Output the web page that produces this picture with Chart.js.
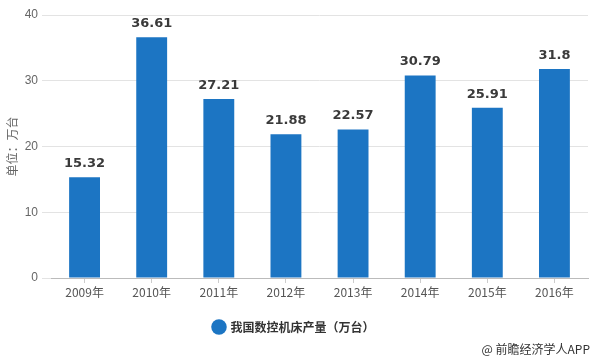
<!DOCTYPE html>
<html>
<head>
<meta charset="utf-8">
<script src="https://cdn.jsdelivr.net/npm/chart.js@4/dist/chart.umd.min.js"></script>
<style>
  body { margin: 0; background: #fff; }
  #wrap { position: relative; width: 600px; height: 361px; }
  #src { position: absolute; right: 10px; bottom: 4px; font: 12px "Noto Sans CJK SC", sans-serif; color: #333; }
</style>
</head>
<body>
<div id="wrap">
  <canvas id="myBarChart" width="600" height="361"></canvas>
  <div id="src">@ 前瞻经济学人APP</div>
</div>
<script>
// data
const years = ['2009年', '2010年', '2011年', '2012年', '2013年', '2014年', '2015年', '2016年'];
const output = [15.32, 36.61, 27.21, 21.88, 22.57, 30.79, 25.91, 31.8];
const seriesName = '我国数控机床产量（万台）';
const yTitle = '单位：万台';

const blue = '#1c75c3';

// draw values above the bars
const valueLabels = {
    id: 'valueLabels',
    afterDatasetsDraw(chart) {
        const ctx = chart.ctx;
        const meta = chart.getDatasetMeta(0);
        ctx.save();
        ctx.font = 'bold 13px "DejaVu Sans", sans-serif';
        ctx.fillStyle = '#3a3a3a';
        ctx.textAlign = 'center';
        ctx.textBaseline = 'bottom';
        meta.data.forEach((bar, i) => {
            ctx.fillText(String(output[i]), bar.x, bar.y - 7);
        });
        ctx.restore();
    }
};

const ctx = document.getElementById('myBarChart').getContext('2d');
const myBarChart = new Chart(ctx, {
    type: 'bar',
    data: {
        labels: years,
        datasets: [{
            label: seriesName,
            data: output,
            backgroundColor: blue,
            categoryPercentage: 0.92,
            barPercentage: 0.5
        }]
    },
    options: {
        responsive: false,
        animation: false,
        layout: { padding: { top: 15, right: 12, bottom: 18, left: 0 } },
        plugins: {
            legend: {
                position: 'bottom',
                labels: {
                    usePointStyle: true,
                    pointStyle: 'circle',
                    boxWidth: 11,
                    boxHeight: 11,
                    color: '#333',
                    font: { family: '"Noto Sans CJK SC", sans-serif', size: 12, weight: 'bold' },
                    padding: 14
                }
            },
            tooltip: { enabled: false }
        },
        scales: {
            x: {
                grid: { drawOnChartArea: false, offset: false, tickLength: 5, color: '#ccc' },
                border: { color: '#bbb' },
                ticks: { color: '#555', font: { family: '"Noto Sans CJK SC", sans-serif', size: 12 }, padding: 2 },
                afterFit(scale) { scale.height = 29; }
            },
            y: {
                min: 0,
                max: 40,
                ticks: { stepSize: 10, color: '#666', font: { family: '"Liberation Sans", sans-serif', size: 12 }, padding: 4 },
                grid: { color: '#e3e3e3', tickLength: 9 },
                border: { display: false },
                title: {
                    display: true,
                    text: yTitle,
                    color: '#666',
                    font: { family: '"Noto Sans CJK SC", sans-serif', size: 12 },
                    padding: { top: 5, bottom: 0 }
                },
                afterFit(scale) { scale.width = 51; }
            }
        }
    },
    plugins: [valueLabels]
});
</script>
</body>
</html>
